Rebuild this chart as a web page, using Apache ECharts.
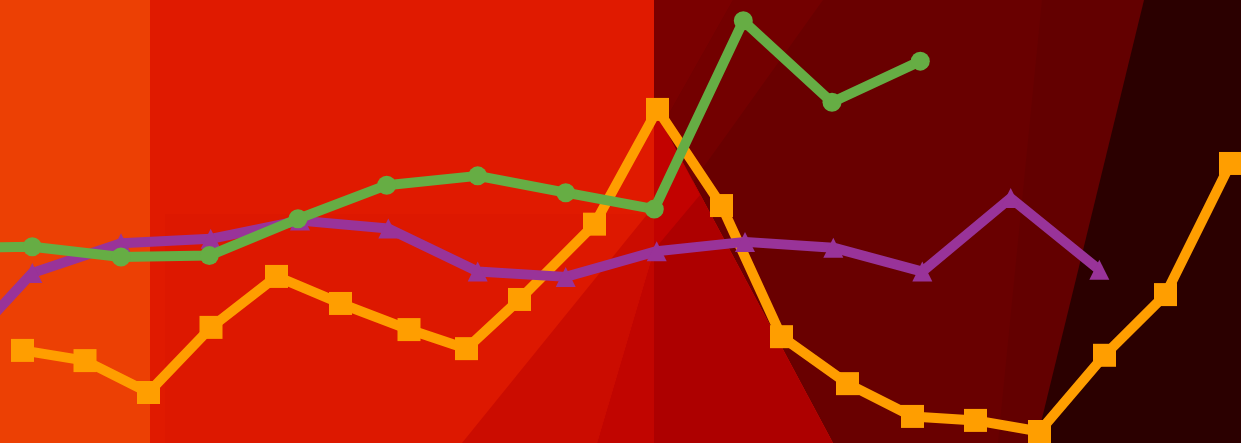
<!DOCTYPE html>
<html>
<head>
<meta charset="utf-8">
<script src="https://cdn.jsdelivr.net/npm/echarts@6/dist/echarts.min.js"></script>
<style>
html,body{margin:0;padding:0;background:#e01a00;}
#chart{width:1241px;height:443px;}
</style>
</head>
<body>
<div id="chart"></div>
<script>
// Data (x in axis units 0..124.1, y in axis units 0..100)
var orangeX = [2.25, 8.5, 14.85, 21.1, 27.65, 34.05, 40.9, 46.65, 51.95, 59.45, 65.75, 72.15, 78.15, 84.75, 91.25, 97.55, 103.95, 110.45, 116.55, 123.05];
var orangeY = [20.9, 18.6, 11.4, 26.1, 37.6, 31.5, 25.6, 21.3, 32.4, 49.4, 75.3, 53.6, 24.0, 13.4, 6.0, 5.1, 2.6, 19.8, 33.5, 63.1];

var purpleX = [-5.6, 3.23, 12.1, 21.07, 30.0, 38.83, 47.77, 56.57, 65.67, 74.5, 83.33, 92.23, 101.07, 109.93];
var purpleY = [16.8, 38.4, 45.1, 46.1, 50.2, 48.4, 38.7, 37.5, 43.3, 45.4, 44.1, 38.7, 55.3, 39.1];

var greenX = [-5.6, 3.23, 12.1, 20.93, 29.8, 38.67, 47.77, 56.57, 65.43, 74.33, 83.2, 92.03];
var greenY = [44.0, 44.3, 42.0, 42.3, 50.6, 58.2, 60.3, 56.5, 52.8, 95.3, 76.9, 86.2];

function zip(xs, ys) { return xs.map(function (x, i) { return [x, ys[i]]; }); }

// decorative low-poly backdrop
function poly(points, color) {
  return { type: 'polygon', z: -100, silent: true, shape: { points: points }, style: { fill: color } };
}
var backdrop = [
  poly([[0,0],[150,0],[150,443],[0,443]], '#ec4004'),
  poly([[165,214],[648,214],[648,443],[165,443]], '#dd1800'),
  poly([[462,443],[654,206],[654,250],[597,443]], '#cb0c00'),
  poly([[597,443],[654,250],[654,443]], '#c10500'),
  poly([[654,0],[1241,0],[1241,443],[833,443],[655,110]], '#690000'),
  poly([[733,0],[823,0],[670,214],[654,214],[654,140]], '#730000'),
  poly([[654,0],[733,0],[654,140]], '#7a0000'),
  poly([[654,108],[833,443],[654,443]], '#ad0000'),
  poly([[654,108],[700,195],[654,250]], '#c20200'),
  poly([[1042,0],[1144,0],[1036,443],[998,443]], '#630000'),
  poly([[1144,0],[1241,0],[1241,443],[1036,443]], '#2b0000')
];

var chart = echarts.init(document.getElementById('chart'), null, { renderer: 'canvas' });
chart.setOption({
  animation: false,
  backgroundColor: '#e01a00',
  graphic: { elements: backdrop },
  grid: { left: 0, right: 0, top: 0, bottom: 0, containLabel: false },
  xAxis: { type: 'value', min: 0, max: 124.1, show: false },
  yAxis: { type: 'value', min: 0, max: 100, show: false },
  series: [
    {
      type: 'line', data: zip(orangeX, orangeY),
      symbol: 'rect', symbolSize: 23, showAllSymbol: true,
      itemStyle: { color: '#ff9e00' },
      lineStyle: { color: '#ff9e00', width: 10 },
      z: 2
    },
    {
      type: 'line', data: zip(purpleX, purpleY),
      symbol: 'triangle', symbolSize: 20, showAllSymbol: true,
      itemStyle: { color: '#993399' },
      lineStyle: { color: '#993399', width: 10 },
      z: 3
    },
    {
      type: 'line', data: zip(greenX, greenY),
      symbol: 'circle', symbolSize: 19, showAllSymbol: true,
      itemStyle: { color: '#66ad44' },
      lineStyle: { color: '#66ad44', width: 10 },
      z: 4
    }
  ]
});
</script>
</body>
</html>
